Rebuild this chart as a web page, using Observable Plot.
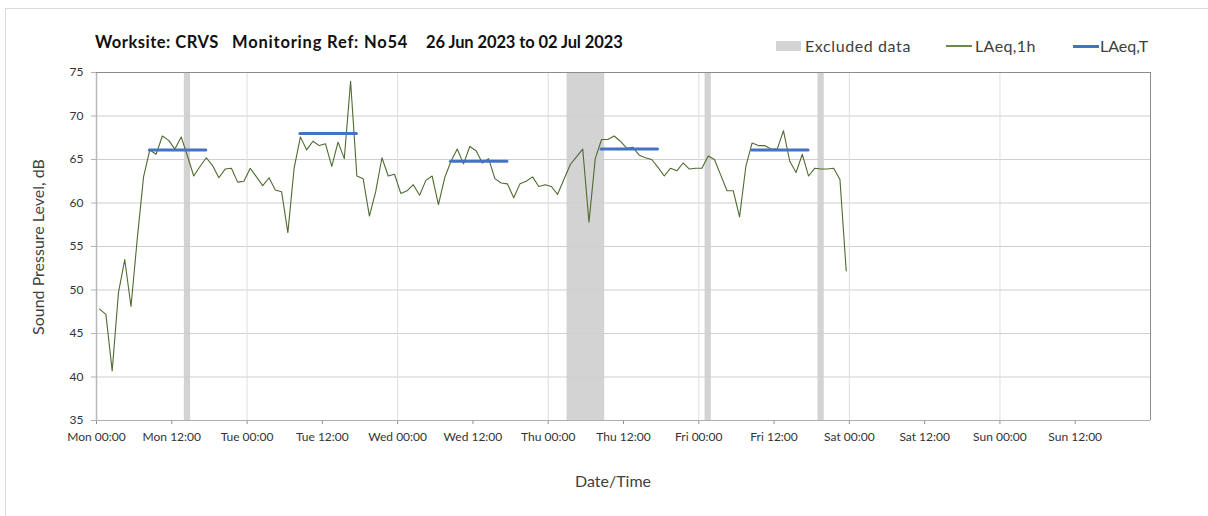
<!DOCTYPE html>
<html>
<head>
<meta charset="utf-8">
<script src="https://cdn.jsdelivr.net/npm/d3@7"></script>
<script src="https://cdn.jsdelivr.net/npm/@observablehq/plot@0.6"></script>
<style>
  body { margin: 0; background: #fff; }
  #wrap { position: relative; width: 1208px; height: 516px; overflow: hidden; font-family: Lato, "Open Sans", sans-serif; color: #404040; }
  #border { position: absolute; left: 5px; top: 8px; width: 1300px; height: 600px; border-left: 1px solid #d9d9d9; border-top: 1px solid #d9d9d9; }
  #chart { position: absolute; left: 0; top: 0; }
  .title { position: absolute; top: 31.5px; font-weight: bold; font-size: 16.5px; color: #111; white-space: nowrap; }
  .leg { position: absolute; top: 36px; font-size: 16px; color: #404040; white-space: nowrap; }
  .sw { position: absolute; }
  #ytitle { position: absolute; left: 37px; top: 247px; transform: translate(-50%, -50%) rotate(-90deg); font-size: 16px; white-space: nowrap; color: #404040; }
  #xtitle { position: absolute; left: 613px; top: 480px; transform: translate(-50%, -50%); font-size: 16px; white-space: nowrap; color: #404040; }
</style>
</head>
<body>
<div id="wrap">
  <div id="border"></div>
  <div id="chart"></div>
  <div class="title" style="left:95px;letter-spacing:0.5px">Worksite: CRVS</div>
  <div class="title" style="left:232px;letter-spacing:0.8px">Monitoring Ref: No54</div>
  <div class="title" style="left:426px;letter-spacing:-0.1px">26 Jun 2023 to 02 Jul 2023</div>
  <div class="sw" style="left:776px;top:41px;width:25px;height:10px;background:#d3d3d3"></div>
  <div class="leg" style="left:805px;letter-spacing:0.6px">Excluded data</div>
  <div class="sw" style="left:946px;top:45px;width:26px;height:1.5px;background:#6b8a4a"></div>
  <div class="leg" style="left:975px;letter-spacing:0.4px">LAeq,1h</div>
  <div class="sw" style="left:1073px;top:44.5px;width:26px;height:3px;background:#4472c4"></div>
  <div class="leg" style="left:1100px">LAeq,T</div>
  <div id="ytitle">Sound Pressure Level, dB</div>
  <div id="xtitle">Date/Time</div>
</div>
<script>
// ---- Data ----
const seriesStart = "2023-06-26T00:30:00Z"; // first hourly LAeq,1h value (mid-hour)
const laeq1h = [
  47.8, 47.2, 40.7, 49.7, 53.5, 48.1, 55.9, 63.0, 66.1, 65.6, 67.7, 67.2,
  66.2, 67.6, 65.4, 63.1, 64.2, 65.2, 64.3, 62.9, 63.9, 64.0, 62.4, 62.5,
  64.0, 63.0, 62.0, 62.9, 61.5, 61.3, 56.6, 64.0, 67.6, 66.1, 67.1, 66.6,
  66.8, 64.2, 67.0, 65.1, 74.0, 63.1, 62.8, 58.5, 61.3, 65.2, 63.1, 63.3,
  61.1, 61.4, 62.1, 60.9, 62.6, 63.1, 59.8, 62.9, 64.8, 66.2, 64.5, 66.5,
  66.0, 64.6, 65.1, 62.8, 62.3, 62.2, 60.6, 62.2, 62.5, 63.0, 61.9, 62.1,
  61.9, 61.0, 62.7, 64.4, 65.3, 66.2, 57.8, 65.1, 67.3, 67.3, 67.7, 67.1,
  66.3, 66.4, 65.5, 65.2, 65.0, 64.1, 63.1, 64.0, 63.7, 64.6, 63.9, 64.0,
  64.0, 65.4, 65.0, 63.2, 61.4, 61.4, 58.4, 64.2, 66.9, 66.6, 66.6, 66.2,
  66.2, 68.3, 64.8, 63.5, 65.6, 63.1, 64.0, 63.9, 63.9, 64.0, 62.7, 52.2
];

const laeqTDays  = ["2023-06-26", "2023-06-27", "2023-06-28", "2023-06-29", "2023-06-30"];
const laeqTStart = "08:30";
const laeqTEnd   = "17:30";
const laeqTValues = [66.1, 68.0, 64.8, 66.2, 66.1];

const excludedStart = ["2023-06-26T14:00:00Z", "2023-06-29T03:00:00Z", "2023-06-30T01:00:00Z", "2023-06-30T19:00:00Z"];
const excludedEnd   = ["2023-06-26T15:00:00Z", "2023-06-29T09:00:00Z", "2023-06-30T02:00:00Z", "2023-06-30T20:00:00Z"];

const xDomain = ["2023-06-26T00:00:00Z", "2023-07-03T00:00:00Z"];
const yTicks = [35, 40, 45, 50, 55, 60, 65, 70, 75];

// ---- Build tables ----
const t0 = new Date(seriesStart).getTime();
const hourly = laeq1h.map((v, i) => ({ t: new Date(t0 + i * 3600e3), v }));
const laeqT = laeqTDays.map((d, i) => ({
  start: new Date(`${d}T${laeqTStart}:00Z`),
  end: new Date(`${d}T${laeqTEnd}:00Z`),
  v: laeqTValues[i]
}));
const excluded = excludedStart.map((s, i) => ({ start: new Date(s), end: new Date(excludedEnd[i]) }));

const x0 = new Date(xDomain[0]), x1 = new Date(xDomain[1]);
const xTicks = d3.utcHour.every(12).range(x0, x1);            // labelled ticks (no label at the far end)
const dayLines = d3.utcDay.range(new Date(x0.getTime() + 1), x1);
const fmt = d3.utcFormat("%a %H:%M");

const chart = Plot.plot({
  width: 1208,
  height: 516,
  marginTop: 72,
  marginLeft: 96,
  marginRight: 58,
  marginBottom: 96,
  style: { fontFamily: "Lato, 'Open Sans', sans-serif", fontSize: "12px", background: "transparent", color: "#333" },
  x: { type: "utc", domain: [x0, x1] },
  y: { domain: [35, 75] },
  marks: [
    Plot.barX(excluded, { x1: "start", x2: "end", fill: "#d3d3d3" }),
    Plot.ruleY(yTicks.filter(d => d > 35 && d < 75), { stroke: "#cfcfcf", strokeWidth: 1 }),
    Plot.ruleX(dayLines, { stroke: "#dedede", strokeWidth: 1 }),
    Plot.line(hourly, { x: "t", y: "v", stroke: "#4f6b30", strokeWidth: 1.1 }),
    Plot.ruleY(laeqT, { x1: "start", x2: "end", y: "v", stroke: "#4472c4", strokeWidth: 3, strokeLinecap: "round" }),
    Plot.axisY({ ticks: yTicks, tickSize: 5, tickPadding: 8, label: null, stroke: "#b0b0b0", fill: "#333", fontSize: 12 }),
    Plot.axisX({ ticks: xTicks, tickFormat: fmt, tickSize: 4, tickPadding: 8, label: null, stroke: "#909090", fill: "#333", fontSize: 12 }),
    Plot.ruleY([35], { stroke: "#b0b0b0" }),
    Plot.ruleX([x0], { stroke: "#b8b8b8", strokeWidth: 1.5 }),
    Plot.ruleY([75], { stroke: "#8c8c8c" }),
    Plot.ruleX([x1], { stroke: "#8c8c8c" })
  ]
});
document.getElementById("chart").appendChild(chart);
</script>
</body>
</html>
